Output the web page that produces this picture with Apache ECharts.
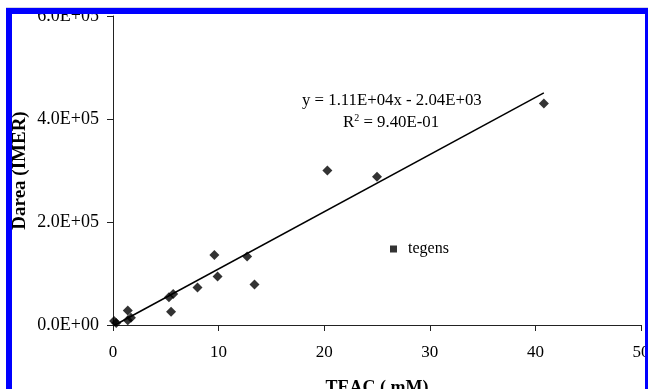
<!DOCTYPE html>
<html>
<head>
<meta charset="utf-8">
<script src="https://cdn.jsdelivr.net/npm/echarts@6/dist/echarts.min.js"></script>
<style>
  html, body { margin: 0; padding: 0; background: #fff; }
  #chart { width: 648px; height: 389px; }
</style>
</head>
<body>
<div id="chart"></div>
<script>
// TEAC concentration (mM) vs. Darea (IMER) measurements
const teac  = [0.1, 0.3, 1.4, 1.4, 1.7, 5.3, 5.5, 5.7, 8.0, 9.6, 9.9, 12.7, 13.4, 20.3, 25.0, 40.8];
const darea = [8000, 4000, 28000, 9000, 14000, 54000, 25500, 60000, 73000, 136000, 94000, 133000, 78500, 300000, 288000, 430000];

// Linear fit as printed on the chart
const slope = 1.11e4;
const intercept = -2.04e3;
const fitLabel = 'y = 1.11E+04x - 2.04E+03';
const r2Label = '9.40E-01';

const xTicks = [0, 10, 20, 30, 40, 50];
const yTicks = [0, 200000, 400000, 600000];

const points = teac.map((x, i) => [x, darea[i]]);
const xMin = Math.min(...teac), xMax = Math.max(...teac);
const fitLine = [[xMin, slope * xMin + intercept], [xMax, slope * xMax + intercept]];

// 2.0E+05 style tick labels
function sci(v) {
  if (v === 0) return '0.0E+00';
  const e = Math.floor(Math.log10(Math.abs(v)));
  const m = v / Math.pow(10, e);
  const sign = e < 0 ? '-' : '+';
  return m.toFixed(1) + 'E' + sign + String(Math.abs(e)).padStart(2, '0');
}

const FONT = '"Liberation Serif", "Times New Roman", serif';
const AXIS_COLOR = '#222';

const chart = echarts.init(document.getElementById('chart'));
chart.setOption({
  animation: false,
  backgroundColor: '#fff',
  textStyle: { fontFamily: FONT, color: '#000' },
  grid: { left: 113, right: 7, top: 16, bottom: 64, containLabel: false, outerBoundsMode: 'none' },
  xAxis: {
    type: 'value',
    min: xTicks[0], max: xTicks[xTicks.length - 1], interval: 10,
    name: 'TEAC ( mM)',
    nameLocation: 'middle',
    nameGap: 54,
    nameMoveOverlap: false,
    nameTextStyle: { fontFamily: FONT, fontWeight: 'bold', fontSize: 18, color: '#000' },
    axisLine: { show: true, lineStyle: { color: AXIS_COLOR, width: 1 } },
    axisTick: { show: true, length: 6, lineStyle: { color: AXIS_COLOR } },
    axisLabel: { fontFamily: FONT, fontSize: 17, color: '#000', margin: 19 },
    splitLine: { show: false }
  },
  yAxis: {
    type: 'value',
    min: yTicks[0], max: yTicks[yTicks.length - 1], interval: 200000,
    name: 'Darea (IMER)',
    nameLocation: 'middle',
    nameGap: 83,
    nameMoveOverlap: false,
    nameTextStyle: { fontFamily: FONT, fontWeight: 'bold', fontSize: 19, color: '#000' },
    axisLine: { show: true, lineStyle: { color: AXIS_COLOR, width: 1 } },
    axisTick: { show: true, length: 6, lineStyle: { color: AXIS_COLOR } },
    axisLabel: { fontFamily: FONT, fontSize: 18, color: '#000', margin: 14, formatter: sci },
    splitLine: { show: false }
  },
  legend: {
    data: [{ name: 'tegens', icon: 'rect' }],
    left: 390, top: 241, padding: 0,
    itemWidth: 7, itemHeight: 7,
    textStyle: { fontFamily: FONT, fontSize: 16, color: '#000', padding: [0, 0, 0, 6] }
  },
  series: [
    {
      name: 'tegens',
      type: 'scatter',
      data: points,
      symbol: 'diamond',
      symbolSize: 10,
      itemStyle: { color: '#000' },
      z: 3
    },
    {
      name: 'fit',
      type: 'line',
      data: fitLine,
      showSymbol: false,
      symbol: 'none',
      clip: false,
      lineStyle: { color: '#000', width: 1.5 },
      z: 2
    }
  ],
  graphic: [
    {
      type: 'text', left: 302, top: 92,
      style: { text: fitLabel, font: '16.8px ' + FONT, fill: '#000' }
    },
    {
      type: 'text', left: 343, top: 113,
      style: {
        text: '{r|R}{s|2}{r| = ' + r2Label + '}',
        rich: {
          r: { fontFamily: FONT, fontSize: 16.8, fill: '#000', color: '#000' },
          s: { fontFamily: FONT, fontSize: 10, fill: '#000', color: '#000', padding: [0, 0, 9, 0] }
        }
      }
    },
    // blue frame around the figure
    { type: 'rect', z: 100, shape: { x: 6, y: 7, width: 642, height: 1 }, style: { fill: '#d4d4e4' } },
    { type: 'rect', z: 100, shape: { x: 6, y: 8, width: 642, height: 6 }, style: { fill: '#0000ff' } },
    { type: 'rect', z: 100, shape: { x: 6, y: 8, width: 6, height: 381 }, style: { fill: '#0000ff' } },
    { type: 'rect', z: 100, shape: { x: 645, y: 8, width: 3, height: 381 }, style: { fill: '#0000ff' } }
  ]
});
</script>
</body>
</html>
